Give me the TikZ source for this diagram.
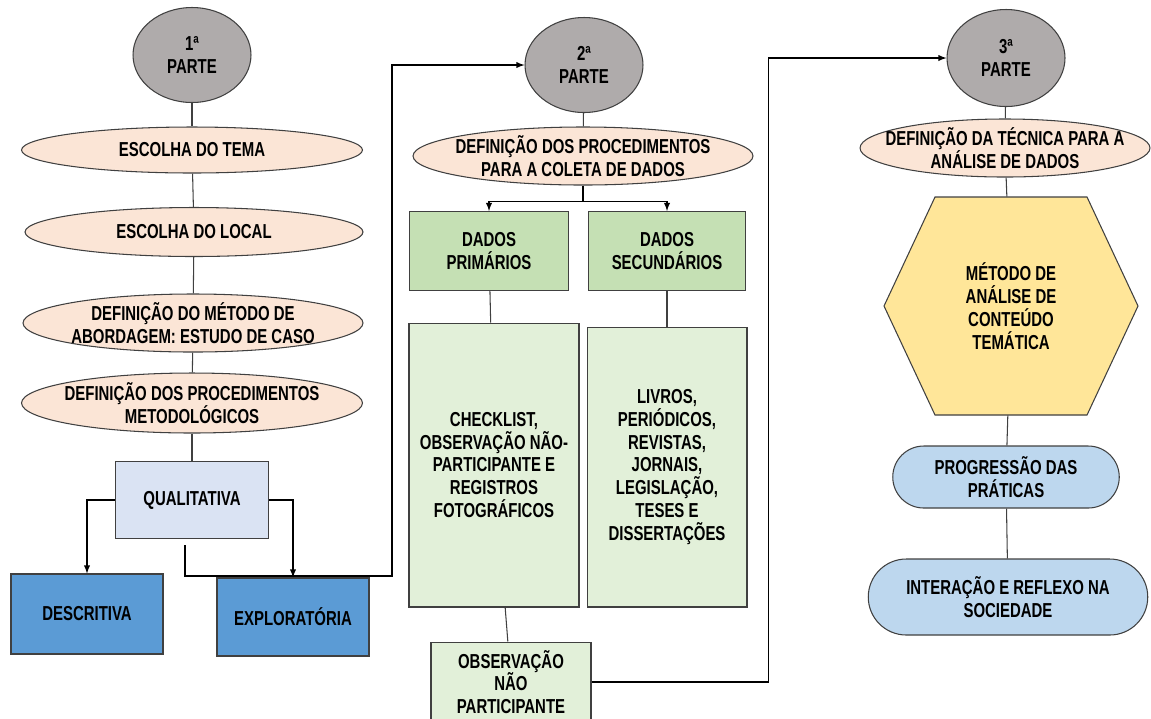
\documentclass[tikz,border=0pt]{standalone}
\usepackage{fontspec}
\setmainfont{Liberation Sans}[FakeStretch=0.74]
\usetikzlibrary{arrows,shapes.geometric,shapes.misc}

\definecolor{cinza}{RGB}{175,171,171}
\definecolor{rosa}{RGB}{251,229,214}
\definecolor{azulclaro}{RGB}{218,227,243}
\definecolor{azul}{RGB}{91,155,213}
\definecolor{verde}{RGB}{197,224,180}
\definecolor{verdeclaro}{RGB}{226,240,217}
\definecolor{amarelo}{RGB}{255,230,153}
\definecolor{azulceu}{RGB}{189,215,238}
\definecolor{borda}{RGB}{64,64,64}

\tikzset{
  txt/.style={font=\fontsize{11.5}{13}\selectfont\bfseries, align=center},
  parte/.style={txt, ellipse, draw=borda, line width=0.6pt, fill=cinza, minimum width=2.36cm, minimum height=1.9cm, inner sep=0pt},
  etapa/.style={txt, ellipse, draw=borda, line width=0.6pt, fill=rosa, inner xsep=-12pt, inner ysep=0pt},
  caixa/.style={txt, rectangle, draw=borda, line width=0.6pt, inner sep=2pt},
  capsula/.style={txt, rounded rectangle, draw=borda, line width=0.6pt, fill=azulceu, inner xsep=-3pt, inner ysep=0pt},
  liga/.style={draw=borda, line width=0.6pt},
  seta/.style={draw=black, line width=0.6pt, -latex}
}

\begin{document}
\begin{tikzpicture}[x=0.02cm, y=-0.02cm]
\useasboundingbox (0,0) rectangle (1151,718);
\clip (0,0) rectangle (1151,718);

% 1a parte
\node[parte] (p1) at (192,55) {1ª\\PARTE};
\node[etapa, minimum width=6.82cm, minimum height=0.92cm] (tema) at (192,150) {ESCOLHA DO TEMA};
\node[etapa, minimum width=6.76cm, minimum height=0.98cm] (local) at (194,232) {ESCOLHA DO LOCAL};
\node[etapa, minimum width=6.8cm, minimum height=1.06cm] (abord) at (193,323) {DEFINIÇÃO DO MÉTODO DE\\ABORDAGEM: ESTUDO DE CASO};
\node[etapa, minimum width=6.82cm, minimum height=1.2cm] (metod) at (192,403) {DEFINIÇÃO DOS PROCEDIMENTOS\\METODOLÓGICOS};
\node[caixa, fill=azulclaro, minimum width=3.06cm, minimum height=1.54cm] (qual) at (192,500) {QUALITATIVA};
\node[caixa, fill=azul, minimum width=3.04cm, minimum height=1.6cm] (desc) at (87,614) {DESCRITIVA};
\node[caixa, fill=azul, minimum width=3.04cm, minimum height=1.56cm] (expl) at (293,617) {EXPLORATÓRIA};

\draw[liga] (p1) -- (tema);
\draw[liga] (tema) -- (local);
\draw[liga] (local) -- (abord);
\draw[liga] (abord) -- (metod);
\draw[liga] (metod) -- (qual);
\draw[seta] (qual.west) -| (desc.north);
\draw[seta] (qual.east) -| (expl.north);

% 2a parte
\node[parte] (p2) at (584,65) {2ª\\PARTE};
\node[etapa, minimum width=6.8cm, minimum height=1.04cm] (coleta) at (583,156) {DEFINIÇÃO DOS PROCEDIMENTOS\\PARA A COLETA DE DADOS};
\node[caixa, fill=verde, minimum width=3.18cm, minimum height=1.58cm] (prim) at (489,251) {DADOS\\PRIMÁRIOS};
\node[caixa, fill=verde, minimum width=3.14cm, minimum height=1.58cm] (sec) at (667,251) {DADOS\\SECUNDÁRIOS};
\node[caixa, fill=verdeclaro, minimum width=3.4cm, minimum height=5.68cm] (check) at (494,465) {CHECKLIST,\\OBSERVAÇÃO NÃO-\\PARTICIPANTE E\\REGISTROS\\FOTOGRÁFICOS};
\node[caixa, fill=verdeclaro, minimum width=3.2cm, minimum height=5.6cm] (livros) at (667,467) {LIVROS,\\PERIÓDICOS,\\REVISTAS,\\JORNAIS,\\LEGISLAÇÃO,\\TESES E\\DISSERTAÇÕES};
\node[caixa, fill=verdeclaro, minimum width=3.2cm, minimum height=1.6cm] (obs) at (511,682) {OBSERVAÇÃO\\NÃO\\PARTICIPANTE};

\draw[liga] (p2) -- (coleta);
\draw[seta] (coleta.south) -- ++(0,16) -| (prim.north);
\draw[seta] (coleta.south) -- ++(0,16) -| (sec.north);
\draw[liga] (prim) -- (check);
\draw[liga] (sec) -- (livros);
\draw[liga] (check) -- (obs);

% 3a parte
\node[parte, minimum height=1.94cm] (p3) at (1006,58) {3ª\\PARTE};
\node[etapa, minimum width=5.8cm, minimum height=1.02cm] (tecnica) at (1005,148) {DEFINIÇÃO DA TÉCNICA PARA A\\ANÁLISE DE DADOS};
\coordinate (hx) at (1011,306);
\draw[draw=borda, line width=0.6pt, fill=amarelo] ([shift={(-76,-109)}]hx) -- ([shift={(76,-109)}]hx) -- ([shift={(127,0)}]hx)
  -- ([shift={(76,109)}]hx) -- ([shift={(-76,109)}]hx) -- ([shift={(-127,0)}]hx) -- cycle;
\node[txt, minimum width=3.04cm, minimum height=4.36cm] (hex) at (hx) {MÉTODO DE\\ANÁLISE DE\\CONTEÚDO\\TEMÁTICA};
\node[capsula, minimum width=4.32cm, minimum height=1.24cm] (prog) at (1006,477) {PROGRESSÃO DAS\\PRÁTICAS};
\node[capsula, minimum width=5.38cm, minimum height=1.52cm] (inter) at (1008,597) {INTERAÇÃO E REFLEXO NA\\SOCIEDADE};

\draw[liga] (p3) -- (tecnica);
\draw[liga] (tecnica) -- (hex);
\draw[liga] (hex) -- (prog);
\draw[liga] (prog) -- (inter);

% ligacoes entre as partes
\coordinate (lk1) at (392,576);
\draw[seta] ([shift={(-7,6)}]qual.south) |- (lk1) |- (p2.west);
\draw[seta] (obs.east) -- ++(177,0) |- (p3.west);
\end{tikzpicture}
\end{document}
